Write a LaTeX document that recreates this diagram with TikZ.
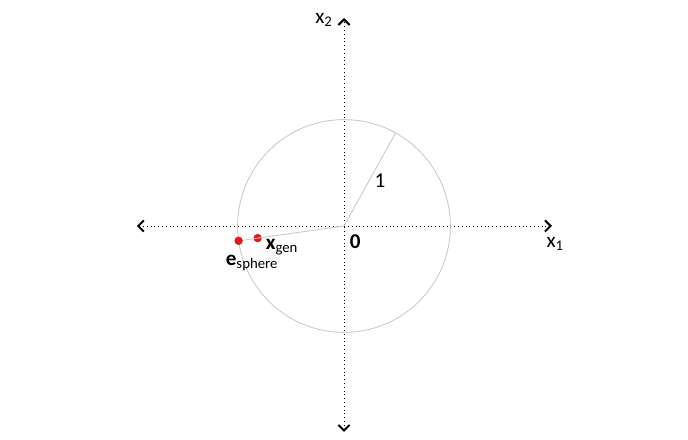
\documentclass[tikz,border=0pt]{standalone}
\usepackage{fontspec}
\setmainfont{Carlito}
\definecolor{circgray}{RGB}{200,200,200}
\definecolor{ptred}{RGB}{240,20,20}
\usetikzlibrary{arrows.meta,positioning}

\begin{document}
\begin{tikzpicture}[
  axis/.style={dotted,line width=0.7pt,{Straight Barb[length=4pt,width=8pt,line width=1.4pt]}-{Straight Barb[length=4pt,width=8pt,line width=1.4pt]}},
  thin gray/.style={draw=circgray,line width=0.6pt},
  redpt/.style={circle,fill=ptred,draw=ptred!80!black,line width=0.3pt,inner sep=0pt,minimum size=5.5pt},
  lbl/.style={font=\fontsize{15}{17}\selectfont,inner sep=1pt}
]
  \useasboundingbox (-8.6,-5.35) rectangle (8.6,5.65);
  \coordinate (O) at (0,0);
  % Axes
  \coordinate (xl) at (-5.18,0);
  \coordinate (xr) at (5.2,0);
  \coordinate (yb) at (0,-5.15);
  \coordinate (yt) at (0,5.2);
  \draw[axis] (xl) -- (xr);
  \draw[axis] (yb) -- (yt);
  % Unit circle and radius
  \draw[thin gray] (O) circle (2.66);
  \coordinate (R) at (61:2.66);
  \draw[thin gray] (O) -- (R);
  % Points
  \node[redpt] (esph) at (188:2.66) {};
  \node[redpt] (xgen) at (188:2.18) {};
  \draw[thin gray] (O) -- (esph);
  % Labels
  \node[lbl] (one) at (0.9,1.13) {1};
  \node[lbl] (zero) at (0.28,-0.38) {\textbf{0}};
  \node[lbl] (x1) at (5.28,-0.45) {x\textsubscript{1}};
  \node[lbl] (x2) at (-0.5,5.15) {x\textsubscript{2}};
  \node[lbl] (elbl) at (-2.3,-0.93) {\textbf{e}\textsubscript{sphere}};
  \node[lbl] (xlbl) at (-1.55,-0.52) {\textbf{x}\textsubscript{gen}};
\end{tikzpicture}
\end{document}
